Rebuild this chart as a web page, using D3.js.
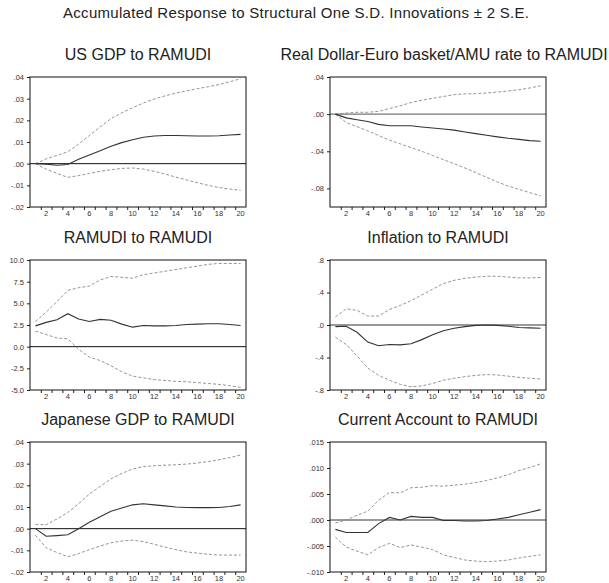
<!DOCTYPE html>
<html>
<head>
<meta charset="utf-8">
<script src="https://cdn.jsdelivr.net/npm/d3@7"></script>
<style>
  body { margin: 0; background: #fff; }
  svg { display: block; font-family: "Liberation Sans", Arial, sans-serif; }
</style>
</head>
<body>
<div id="chart"></div>
<script>
// periods 1..20
const periods = [1,2,3,4,5,6,7,8,9,10,11,12,13,14,15,16,17,18,19,20];
const xTickLabels = [2,4,6,8,10,12,14,16,18,20];

// US GDP to RAMUDI
const usGdpResp  = [0,-0.0002,-0.0007,-0.0004,0.002,0.004,0.006,0.008,0.0097,0.011,0.0122,0.0128,0.013,0.013,0.0129,0.0128,0.0128,0.0129,0.0132,0.0135];
const usGdpUpper = [0,0.0022,0.0038,0.0055,0.009,0.013,0.017,0.0208,0.0235,0.0258,0.028,0.0298,0.0313,0.0326,0.0336,0.0346,0.0355,0.0365,0.0378,0.0392];
const usGdpLower = [0,-0.0025,-0.0045,-0.0063,-0.0055,-0.0045,-0.0035,-0.0028,-0.0022,-0.002,-0.0025,-0.0035,-0.0048,-0.0062,-0.0075,-0.0088,-0.01,-0.011,-0.0117,-0.0123];
const usGdpTicks = [0.04,0.03,0.02,0.01,0,-0.01,-0.02];
const usGdpTickLabels = [".04",".03",".02",".01",".00","-.01","-.02"];

// Real Dollar-Euro basket/AMU rate to RAMUDI
const rateResp  = [0,-0.004,-0.006,-0.008,-0.011,-0.0125,-0.0125,-0.0125,-0.0138,-0.015,-0.016,-0.0172,-0.0192,-0.021,-0.0228,-0.0245,-0.026,-0.0272,-0.0285,-0.0292];
const rateUpper = [0,0.0012,0.002,0.002,0.003,0.006,0.009,0.0125,0.015,0.017,0.019,0.021,0.0218,0.022,0.0228,0.0238,0.025,0.0262,0.0282,0.0305];
const rateLower = [0,-0.009,-0.0135,-0.018,-0.023,-0.028,-0.032,-0.036,-0.04,-0.0445,-0.049,-0.0535,-0.058,-0.063,-0.068,-0.073,-0.0775,-0.081,-0.0845,-0.088];
const rateTicks = [0.04,0,-0.04,-0.08];
const rateTickLabels = [".04",".00","-.04","-.08"];

// RAMUDI to RAMUDI
const ramudiResp  = [2.4,2.8,3.1,3.8,3.2,2.9,3.15,3.05,2.6,2.25,2.45,2.4,2.4,2.45,2.55,2.6,2.65,2.65,2.55,2.45];
const ramudiUpper = [2.9,4.0,5.2,6.5,6.8,7.0,7.7,8.1,8.0,7.9,8.3,8.5,8.7,8.9,9.1,9.3,9.5,9.6,9.6,9.6];
const ramudiLower = [1.8,1.4,1.0,0.9,-0.3,-1.2,-1.6,-2.2,-2.9,-3.4,-3.6,-3.8,-3.9,-4.0,-4.05,-4.15,-4.25,-4.35,-4.5,-4.7];
const ramudiTicks = [10,7.5,5,2.5,0,-2.5,-5];
const ramudiTickLabels = ["10.0","7.5","5.0","2.5","0.0","-2.5","-5.0"];

// Inflation to RAMUDI
const inflResp  = [-0.02,-0.015,-0.09,-0.21,-0.255,-0.24,-0.245,-0.23,-0.18,-0.12,-0.07,-0.04,-0.02,-0.005,0,-0.005,-0.015,-0.03,-0.035,-0.04];
const inflUpper = [0.1,0.2,0.18,0.11,0.11,0.19,0.24,0.3,0.37,0.44,0.51,0.55,0.575,0.59,0.6,0.6,0.59,0.58,0.58,0.585];
const inflLower = [-0.15,-0.24,-0.38,-0.53,-0.62,-0.68,-0.73,-0.76,-0.75,-0.72,-0.68,-0.655,-0.635,-0.62,-0.61,-0.615,-0.63,-0.645,-0.655,-0.665];
const inflTicks = [0.8,0.4,0,-0.4,-0.8];
const inflTickLabels = [".8",".4",".0","-.4","-.8"];

// Japanese GDP to RAMUDI
const jpGdpResp  = [0,-0.0035,-0.0032,-0.0028,0,0.003,0.0055,0.008,0.0095,0.011,0.0115,0.011,0.0105,0.01,0.0098,0.0097,0.0097,0.0098,0.0102,0.011];
const jpGdpUpper = [0.002,0.0018,0.0045,0.0075,0.0115,0.016,0.0195,0.023,0.0255,0.0275,0.0287,0.029,0.0293,0.0295,0.0298,0.0303,0.031,0.0318,0.0328,0.034];
const jpGdpLower = [-0.003,-0.0088,-0.011,-0.013,-0.0115,-0.0097,-0.008,-0.0065,-0.0057,-0.0053,-0.006,-0.0072,-0.0085,-0.0097,-0.0107,-0.0113,-0.0118,-0.0122,-0.0122,-0.0122];

// Current Account to RAMUDI
const caResp  = [-0.0018,-0.0024,-0.0024,-0.0024,-0.0007,0.0005,0,0.0007,0.0005,0.0005,-0.0001,-0.0001,-0.0002,-0.0002,-0.0001,0.0002,0.0005,0.001,0.0015,0.002];
const caUpper = [-0.0006,0,0.0009,0.0017,0.0038,0.0053,0.0052,0.0062,0.0063,0.0066,0.0065,0.0067,0.0069,0.0072,0.0076,0.0081,0.0087,0.0095,0.0101,0.0108];
const caLower = [-0.0033,-0.0052,-0.006,-0.0067,-0.0053,-0.0045,-0.0053,-0.0048,-0.0052,-0.0057,-0.0067,-0.0072,-0.0077,-0.0079,-0.008,-0.0079,-0.0077,-0.0073,-0.007,-0.0067];
const caTicks = [0.015,0.01,0.005,0,-0.005,-0.01];
const caTickLabels = [".015",".010",".005",".000","-.005","-.010"];

const panels = [
  { title: "US GDP to RAMUDI", resp: usGdpResp, up: usGdpUpper, lo: usGdpLower, dom: [-0.02, 0.04], ticks: usGdpTicks, labels: usGdpTickLabels, col: 0, row: 0, zero: "#111", tx: 0 },
  { title: "Real Dollar-Euro basket/AMU rate to RAMUDI", resp: rateResp, up: rateUpper, lo: rateLower, dom: [-0.10, 0.04], ticks: rateTicks, labels: rateTickLabels, col: 1, row: 0, zero: "#777", tx: 6 },
  { title: "RAMUDI to RAMUDI", resp: ramudiResp, up: ramudiUpper, lo: ramudiLower, dom: [-5, 10], ticks: ramudiTicks, labels: ramudiTickLabels, col: 0, row: 1, zero: "#111", tx: 0 },
  { title: "Inflation to RAMUDI", resp: inflResp, up: inflUpper, lo: inflLower, dom: [-0.8, 0.8], ticks: inflTicks, labels: inflTickLabels, col: 1, row: 1, zero: "#777", tx: 0 },
  { title: "Japanese GDP to RAMUDI", resp: jpGdpResp, up: jpGdpUpper, lo: jpGdpLower, dom: [-0.02, 0.04], ticks: usGdpTicks, labels: usGdpTickLabels, col: 0, row: 2, zero: "#111", tx: 0 },
  { title: "Current Account to RAMUDI", resp: caResp, up: caUpper, lo: caLower, dom: [-0.01, 0.015], ticks: caTicks, labels: caTickLabels, col: 1, row: 2, zero: "#777", tx: 0 }
];

const W = 609, H = 583;
const colX = [30, 330];
const rowY = [77, 260, 442];
const pw = 216, ph = 130;

const svg = d3.select('#chart')
  .append('svg')
  .attr('width', W)
  .attr('height', H);

svg.append('text')
  .attr('x', 296)
  .attr('y', 18)
  .attr('text-anchor', 'middle')
  .attr('textLength', 466)
  .attr('lengthAdjust', 'spacing')
  .style('font-size', '15px')
  .style('fill', '#222')
  .text('Accumulated Response to Structural One S.D. Innovations \u00B1 2 S.E.');

panels.forEach(p => {
  const g = svg.append('g')
    .attr('transform', 'translate(' + colX[p.col] + ',' + rowY[p.row] + ')');

  const x = d3.scaleLinear().domain([0.5, 20.5]).range([0, pw]);
  const y = d3.scaleLinear().domain(p.dom).range([ph, 0]);

  // title
  g.append('text')
    .attr('x', pw / 2 + p.tx)
    .attr('y', -17)
    .attr('text-anchor', 'middle')
    .style('font-size', '16px')
    .style('fill', '#222')
    .text(p.title);

  // y axis
  const yAxis = d3.axisLeft(y)
    .tickValues(p.ticks)
    .tickSize(3)
    .tickPadding(3)
    .tickFormat((d, i) => p.labels[i]);
  const ya = g.append('g').call(yAxis);
  ya.select('.domain').remove();
  ya.selectAll('text').style('font-size', '7.5px').style('fill', '#333').style('font-family', '"Liberation Sans", Arial, sans-serif');
  ya.selectAll('line').attr('stroke', '#222');

  // x axis: ticks on period boundaries, labels on even periods
  const xa = g.append('g').attr('transform', 'translate(0,' + ph + ')');
  xa.call(d3.axisBottom(x)
    .tickValues(periods.slice(0, 19).map(d => d + 0.5))
    .tickSize(3)
    .tickFormat(''));
  xa.select('.domain').remove();
  xa.selectAll('line').attr('stroke', '#222');
  xa.selectAll('text.xl')
    .data(xTickLabels)
    .enter()
    .append('text')
    .attr('class', 'xl')
    .attr('x', d => x(d))
    .attr('y', 9)
    .attr('text-anchor', 'middle')
    .style('font-size', '7.5px')
    .style('fill', '#333')
    .text(d => d);

  // zero line
  g.append('line')
    .attr('x1', 0).attr('x2', pw)
    .attr('y1', y(0)).attr('y2', y(0))
    .attr('stroke', p.zero)
    .attr('stroke-width', p.zero === '#111' ? 1 : 1.4);

  const line = d3.line()
    .x((d, i) => x(periods[i]))
    .y(d => y(d));

  g.append('path')
    .attr('d', line(p.up))
    .attr('fill', 'none')
    .attr('stroke', '#888')
    .attr('stroke-width', 0.9)
    .attr('stroke-dasharray', '3,2');

  g.append('path')
    .attr('d', line(p.lo))
    .attr('fill', 'none')
    .attr('stroke', '#888')
    .attr('stroke-width', 0.9)
    .attr('stroke-dasharray', '3,2');

  g.append('path')
    .attr('d', line(p.resp))
    .attr('fill', 'none')
    .attr('stroke', '#333')
    .attr('stroke-width', 1.1);

  // frame
  g.append('rect')
    .attr('width', pw)
    .attr('height', ph)
    .attr('fill', 'none')
    .attr('stroke', '#111')
    .attr('stroke-width', 1);
});
</script>
</body>
</html>
